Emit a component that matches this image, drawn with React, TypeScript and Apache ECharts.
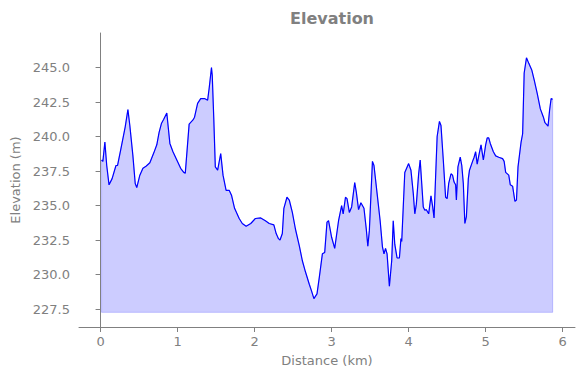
import React, { useEffect, useRef } from "react";
import * as echarts from "echarts";

const distanceKm = [
  0.013, 0.03, 0.056, 0.08, 0.11, 0.15, 0.2, 0.22, 0.26, 0.32, 0.355, 0.38, 0.42, 0.45, 0.47, 0.51, 0.55, 0.59,
  0.64, 0.69, 0.73, 0.76, 0.79, 0.82, 0.86, 0.9, 0.94, 0.99, 1.04, 1.08, 1.1, 1.15, 1.2, 1.22, 1.26, 1.3, 1.35,
  1.39, 1.41, 1.44, 1.45, 1.47, 1.49, 1.52, 1.56, 1.59, 1.63, 1.67, 1.7, 1.74, 1.8, 1.84, 1.89, 1.95, 2.01, 2.08,
  2.14, 2.19, 2.25, 2.28, 2.31, 2.33, 2.36, 2.38, 2.42, 2.45, 2.49, 2.53, 2.58, 2.62, 2.66, 2.71, 2.74, 2.77,
  2.81, 2.84, 2.88, 2.91, 2.94, 2.96, 3.0, 3.04, 3.09, 3.13, 3.15, 3.18, 3.2, 3.23, 3.26, 3.3, 3.32, 3.35, 3.38,
  3.42, 3.45, 3.47, 3.49, 3.53, 3.55, 3.59, 3.63, 3.66, 3.68, 3.7, 3.72, 3.75, 3.78, 3.8, 3.82, 3.85, 3.88, 3.9,
  3.91, 3.93, 3.95, 4.0, 4.03, 4.06, 4.08, 4.1, 4.13, 4.15, 4.17, 4.19, 4.21, 4.23, 4.26, 4.29, 4.31, 4.33, 4.35,
  4.37, 4.4, 4.42, 4.45, 4.48, 4.5, 4.52, 4.55, 4.57, 4.59, 4.61, 4.62, 4.64, 4.67, 4.69, 4.71, 4.73, 4.75, 4.775,
  4.79, 4.83, 4.85, 4.87, 4.89, 4.91, 4.94, 4.97, 5.0, 5.02, 5.04, 5.06, 5.1, 5.13, 5.17, 5.22, 5.24, 5.26, 5.3,
  5.32, 5.35, 5.38, 5.4, 5.42, 5.46, 5.48, 5.5, 5.53, 5.56, 5.6, 5.63, 5.67, 5.71, 5.75, 5.77, 5.81, 5.83, 5.85,
  5.87,
];

const elevationM = [
  238.3, 238.2, 239.6, 237.9, 236.5, 236.95, 237.9, 237.9, 239.0, 240.7, 241.96, 240.8, 238.6, 236.6, 236.3,
  237.2, 237.7, 237.85, 238.1, 238.8, 239.4, 240.3, 240.94, 241.25, 241.7, 239.5, 238.9, 238.3, 237.7, 237.4,
  237.35, 240.9, 241.2, 241.4, 242.4, 242.75, 242.75, 242.63, 243.5, 245.0, 244.44, 241.3, 237.8, 237.56,
  238.77, 237.2, 236.1, 236.1, 235.75, 234.8, 234.06, 233.7, 233.5, 233.7, 234.06, 234.1, 233.9, 233.7, 233.6,
  232.97, 232.6, 232.5, 232.97, 234.8, 235.6, 235.4, 234.5, 233.3, 232.1, 231.0, 230.2, 229.3, 228.8, 228.26,
  228.6, 229.8, 231.5, 231.6, 233.8, 233.9, 232.7, 231.9, 233.9, 235.0, 234.4, 235.6, 235.5, 234.5, 234.9,
  236.67, 236.0, 234.7, 235.2, 234.8, 233.3, 232.05, 233.2, 238.2, 237.9, 235.9, 233.9, 232.0, 231.5, 231.9,
  231.5, 229.15, 231.0, 233.9, 232.2, 231.2, 231.2, 232.6, 232.4, 234.9, 237.4, 238.04, 237.56, 235.9, 234.4,
  235.1, 237.3, 238.3, 236.6, 234.9, 234.66, 234.7, 234.4, 235.7, 235.0, 234.1, 237.07, 240.0, 241.1, 240.8,
  238.3, 235.6, 235.5, 236.6, 237.3, 237.2, 236.7, 236.5, 235.4, 237.8, 238.5, 237.9, 236.6, 233.7, 234.2,
  236.95, 237.56, 238.2, 238.5, 238.9, 238.0, 238.6, 239.4, 238.3, 239.4, 239.9, 239.9, 239.5, 238.9, 238.6,
  238.5, 238.4, 238.2, 237.4, 237.2, 236.5, 236.4, 235.3, 235.4, 237.8, 239.6, 240.2, 244.6, 245.7, 245.3,
  244.8, 244.1, 243.1, 242.0, 241.4, 241.0, 240.75, 241.9, 242.75, 242.7,
];

const xTicks = [0, 1, 2, 3, 4, 5, 6];
const yTicks = [227.5, 230.0, 232.5, 235.0, 237.5, 240.0, 242.5, 245.0];

const FONT = "DejaVu Sans";
const GRAY = "#808080";

export default function App() {
  const ref = useRef<HTMLDivElement>(null);
  useEffect(() => {
    if (!ref.current) return;
    const chart = echarts.init(ref.current, undefined, { renderer: "svg" });
    const base = Math.min(...elevationM) - 1;
    const pts = distanceKm.map((d, i) => [d, elevationM[i]]);
    const n = distanceKm.length;
    const edge = [
      [distanceKm[0], elevationM[0]],
      [distanceKm[0], base],
      [distanceKm[n - 1], base],
      [distanceKm[n - 1], elevationM[n - 1]],
    ];
    chart.setOption({
      animation: false,
      backgroundColor: "#ffffff",
      title: {
        text: "Elevation",
        left: 327,
        textAlign: "center",
        top: 5,
        textStyle: { fontFamily: FONT, fontSize: 16, fontWeight: "bold", color: GRAY },
      },
      grid: { left: 79, right: 9, top: 33, bottom: 51, containLabel: false },
      xAxis: {
        type: "value",
        min: -0.28,
        max: 6.16,
        name: "Distance (km)",
        nameLocation: "middle",
        nameGap: 27,
        nameTextStyle: { fontFamily: FONT, fontSize: 13, color: GRAY },
        axisLine: { show: true, onZero: false, lineStyle: { color: GRAY, width: 1 } },
        axisTick: { show: true, length: 5, lineStyle: { color: GRAY }, customValues: xTicks },
        axisLabel: {
          fontFamily: FONT,
          fontSize: 13,
          color: GRAY,
          margin: 8,
          customValues: xTicks,
          formatter: (v: number) => String(v),
        },
        splitLine: { show: false },
      },
      yAxis: {
        type: "value",
        min: 226.2,
        max: 247.5,
        name: "Elevation (m)",
        nameLocation: "middle",
        nameGap: 56,
        nameRotate: 90,
        nameTextStyle: { fontFamily: FONT, fontSize: 13, color: GRAY },
        axisLine: { show: true, lineStyle: { color: GRAY, width: 1 } },
        axisTick: { show: true, length: 5, lineStyle: { color: GRAY }, customValues: yTicks },
        axisLabel: {
          fontFamily: FONT,
          fontSize: 13,
          color: GRAY,
          margin: 9,
          customValues: yTicks,
          formatter: (v: number) => v.toFixed(1),
        },
        splitLine: { show: false },
      },
      series: [
        {
          type: "line",
          data: pts,
          showSymbol: false,
          lineStyle: { width: 1, color: "rgba(0,0,255,0.2)" },
          areaStyle: { color: "rgba(0,0,255,0.2)", origin: base, opacity: 1 },
          z: 1,
          silent: true,
        },
        {
          type: "line",
          data: edge,
          showSymbol: false,
          lineStyle: { width: 1, color: "rgba(0,0,255,0.2)" },
          z: 2,
          silent: true,
        },
        {
          type: "line",
          data: pts,
          showSymbol: false,
          lineStyle: { width: 1.2, color: "#0000ff" },
          z: 3,
          silent: true,
        },
      ],
    });
    return () => chart.dispose();
  }, []);
  return <div ref={ref} style={{ width: 584, height: 378, position: "absolute", left: 0, top: 0 }} />;
}
